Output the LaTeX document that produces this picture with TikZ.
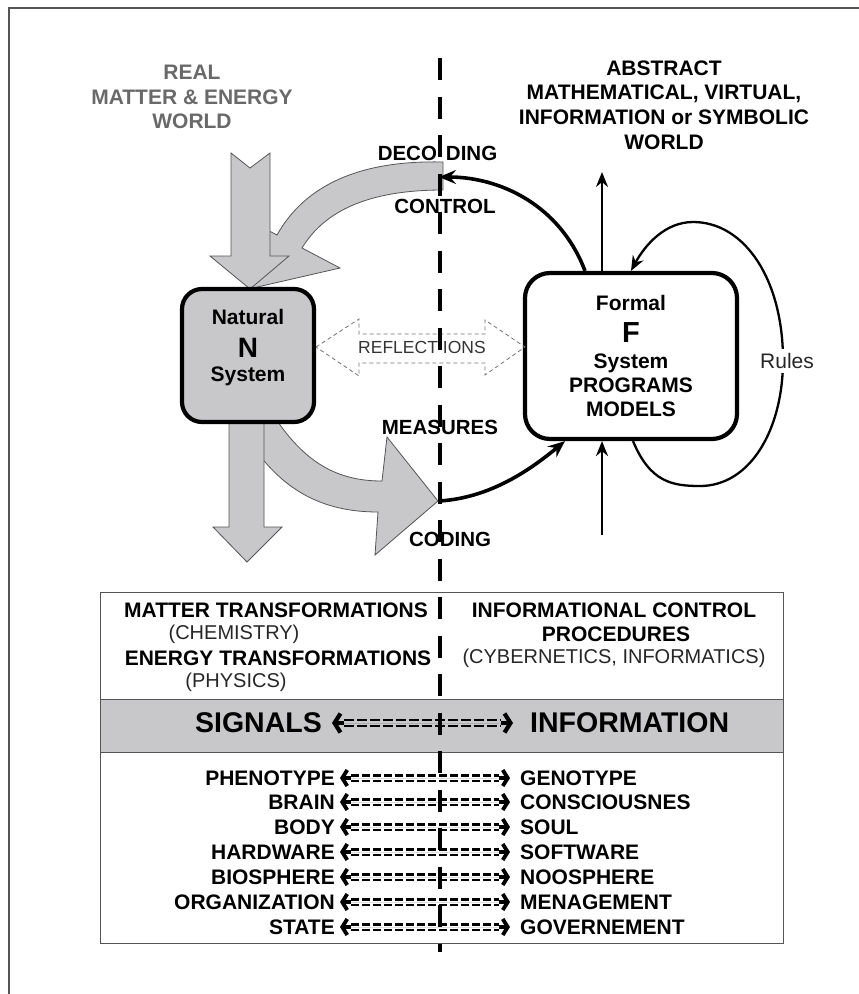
\documentclass[tikz,border=0pt]{standalone}
\usepackage{fontspec}
\setmainfont{Liberation Sans}
\usetikzlibrary{arrows.meta}

\definecolor{fillgray}{RGB}{200,200,202}
\definecolor{edgegray}{RGB}{85,85,85}
\definecolor{worldgray}{RGB}{105,105,105}

\begin{document}
\begin{tikzpicture}[x=1pt,y=-1pt,
  world/.style={align=center,font=\fontsize{21}{24.8}\selectfont\bfseries},
  lab/.style={font=\fontsize{20.5}{24}\selectfont\bfseries,inner sep=0pt},
  boxtext/.style={align=center,font=\fontsize{21}{24}\selectfont\bfseries,inner sep=0pt},
  nbox/.style={draw,line width=4.2pt,fill=fillgray,rounded corners=20pt,
    minimum width=132pt,minimum height=133pt},
  fbox/.style={draw,line width=4.2pt,fill=white,rounded corners=25pt,
    minimum width=212pt,minimum height=166pt},
  fatarrow/.style={fill=fillgray,draw=edgegray,line width=0.8pt,line join=miter},
  thickarrow/.style={line width=3.6pt,-{Stealth[length=17pt,width=14pt,inset=6pt]}},
  thinarrow/.style={line width=2.3pt,-{Stealth[length=15pt,width=12pt,inset=5pt]}},
  reflect/.style={draw=black!55,line width=0.8pt,dash pattern=on 4pt off 3pt},
  divider/.style={line width=4pt,dash pattern=on 22pt off 16.5pt},
  bt/.style={font=\fontsize{21}{24}\selectfont\bfseries,inner sep=0pt},
  pt/.style={font=\fontsize{20}{24}\selectfont,text=black!85,inner sep=0pt},
  sig/.style={font=\fontsize{28.5}{30}\selectfont\bfseries,inner ysep=0pt},
  word/.style={font=\fontsize{21}{24}\selectfont\bfseries,inner ysep=0pt},
  % "<=====>" connectors: bold barbed heads with short stems and dashed twin bars
  eqbar/.style={draw,-,line width=2.2pt,dash pattern=on 8.3pt off 2.7pt,
    shorten <=11pt,shorten >=11pt},
  eqarrow/.style={line width=0.01pt,
    {Straight Barb[length=5pt,width=16pt,line width=3.8pt]}-{Straight Barb[length=5pt,width=16pt,line width=3.8pt]},
    postaction={draw,-,line width=4.2pt,dash pattern=on 0pt off 3pt on 8pt off 148pt on 8pt off 60pt},
    postaction={eqbar,transform canvas={yshift=2.6pt}},
    postaction={eqbar,transform canvas={yshift=-2.6pt}}},
  bigeqarrow/.style={line width=0.01pt,
    {Straight Barb[length=6pt,width=19pt,line width=4.2pt]}-{Straight Barb[length=6pt,width=19pt,line width=4.2pt]},
    postaction={draw,-,line width=4.8pt,dash pattern=on 0pt off 3pt on 9pt off 157pt on 9pt off 60pt},
    postaction={eqbar,line width=2.4pt,dash pattern=on 10pt off 3pt,shorten <=12pt,shorten >=12pt,
      transform canvas={yshift=3pt}},
    postaction={eqbar,line width=2.4pt,dash pattern=on 10pt off 3pt,shorten <=12pt,shorten >=12pt,
      transform canvas={yshift=-3pt}}}
]
\useasboundingbox (0,0) rectangle (859,994);

% frame edges
\draw[edgegray,line width=1.5pt] (9,994) -- (9,8) -- (859,8);

% world titles
\node[world,text=worldgray] (real) at (192,97) {REAL\\MATTER \& ENERGY\\WORLD};
\node[world] (abstract) at (664,105) {ABSTRACT\\MATHEMATICAL, VIRTUAL,\\INFORMATION or SYMBOLIC\\WORLD};

% fat gray arrows: decoding / control band
\draw[fatarrow] (443,162) .. controls (360,160) and (305,185) .. (277,235)
  -- (239,215) -- (253,288) -- (340,268) -- (302,248)
  .. controls (325,210) and (370,190) .. (443,190) -- cycle;
% matter & energy flowing in
\draw[fatarrow] (231,153) -- (250,168) -- (270,153) -- (270,256) -- (289,256)
  -- (250,289) -- (210,256) -- (231,256) -- cycle;
% measures / coding band
\draw[fatarrow] (250,422) -- (278,422) .. controls (308,465) and (340,481) .. (382,481)
  -- (387,437) -- (438,501) -- (375,555) -- (378,512)
  .. controls (322,512) and (283,490) .. (252,445) -- cycle;
% matter & energy flowing out
\draw[fatarrow] (229,422) -- (264,422) -- (264,527) -- (282,527) -- (247,562)
  -- (213,527) -- (229,527) -- cycle;

% the two systems
\node[nbox] (N) at (248,355.5) {};
\node[boxtext] (Ntext) at (248,348) {Natural\\[8.5pt]{\fontsize{28}{28}\selectfont N}\\[0.5pt]System};
\node[fbox] (F) at (631,356) {};
\node[boxtext] (Ftext) at (631,356) {Formal\\[7.5pt]{\fontsize{29}{29}\selectfont F}\\[2.5pt]System\\PROGRAMS\\MODELS};

% reflections double arrow
\draw[reflect] (316,347) -- (359,319) -- (359,334) -- (485,334) -- (485,320) -- (525,347)
  -- (485,375) -- (485,363) -- (359,363) -- (359,376) -- cycle;
\node[font=\fontsize{17.5}{20}\selectfont,text=black!80,inner sep=0pt] (refl) at (422,347) {REFLECT\hspace{5pt}IONS};

% connection points on the divide
\coordinate (decpt) at (439,177);
\coordinate (codpt) at (439,501);
\coordinate (upend) at (602,172);
\coordinate (upstart) at (602,535);

% black arrows around the formal system
\draw[thickarrow] ([xshift=-46pt]F.north) .. controls (560,205) and (500,177) .. (decpt);
\draw[thickarrow] (codpt) .. controls (490,498) and (530,470) .. ([xshift=-66pt]F.south);
\draw[thinarrow] (upend |- F.north) -- (upend);
\draw[thinarrow] (upstart) -- (upstart |- F.south);
\draw[thinarrow] ([xshift=2pt]F.south) .. controls (650,482) and (672,486) .. (700,486)
  .. controls (750,486) and (783,430) .. (783,360)
  .. controls (783,280) and (745,222) .. (693,222)
  .. controls (665,222) and (645,245) .. (F.north);
\node[font=\fontsize{21}{24}\selectfont,text=black!85,fill=white,inner xsep=1pt,inner ysep=4pt] (rules) at (787,361) {Rules};

% labels on the divide
\node[lab] (decoding) at (437.5,153) {DECO\hspace{9pt}DING};
\node[lab] (control) at (445,206) {CONTROL};
\node[lab] (measures) at (440,427) {MEASURES};
\node[lab] (coding) at (450,539) {CODING};

% lower table
\node[draw=edgegray,line width=1.2pt,minimum width=683pt,minimum height=351pt,
  anchor=north west,inner sep=0pt] (table) at (100,592) {};
\node[draw=edgegray,line width=1pt,fill=fillgray,minimum width=683pt,minimum height=53.5pt,
  anchor=north west,inner sep=0pt] (band) at (100,698.5) {};

\node[bt] (mt) at (276,610) {MATTER TRANSFORMATIONS};
\node[pt] (chem) at (234,634) {(CHEMISTRY)};
\node[bt] (et) at (278,658) {ENERGY TRANSFORMATIONS};
\node[pt] (phys) at (236,682) {(PHYSICS)};
\node[bt] (ic) at (614,610) {INFORMATIONAL CONTROL};
\node[bt] (proc) at (616,634) {PROCEDURES};
\node[pt] (cyb) at (614,658) {(CYBERNETICS, INFORMATICS)};

\node[sig,anchor=east,inner xsep=10pt] (signals) at (332,723) {SIGNALS};
\node[sig,anchor=west,inner xsep=17pt] (information) at (513,723) {INFORMATION};
\draw[bigeqarrow] (signals.east) -- (information.west);

\foreach \l/\r/\y [count=\i] in {PHENOTYPE/GENOTYPE/778,BRAIN/CONSCIOUSNES/802,
    BODY/SOUL/827,HARDWARE/SOFTWARE/852,BIOSPHERE/NOOSPHERE/877,
    ORGANIZATION/MENAGEMENT/902,STATE/GOVERNEMENT/927}{
  \node[word,anchor=east,inner xsep=5pt] (left\i) at (340,\y) {\l};
  \node[word,anchor=west,inner xsep=10pt] (right\i) at (510,\y) {\r};
  \draw[eqarrow] (left\i.east) -- (right\i.west);
}

% the divide between the real and the abstract world
\coordinate (divtop) at (440,58);
\coordinate (divbot) at (440,952);
\draw[divider] (divtop) -- (divbot);
\end{tikzpicture}
\end{document}
